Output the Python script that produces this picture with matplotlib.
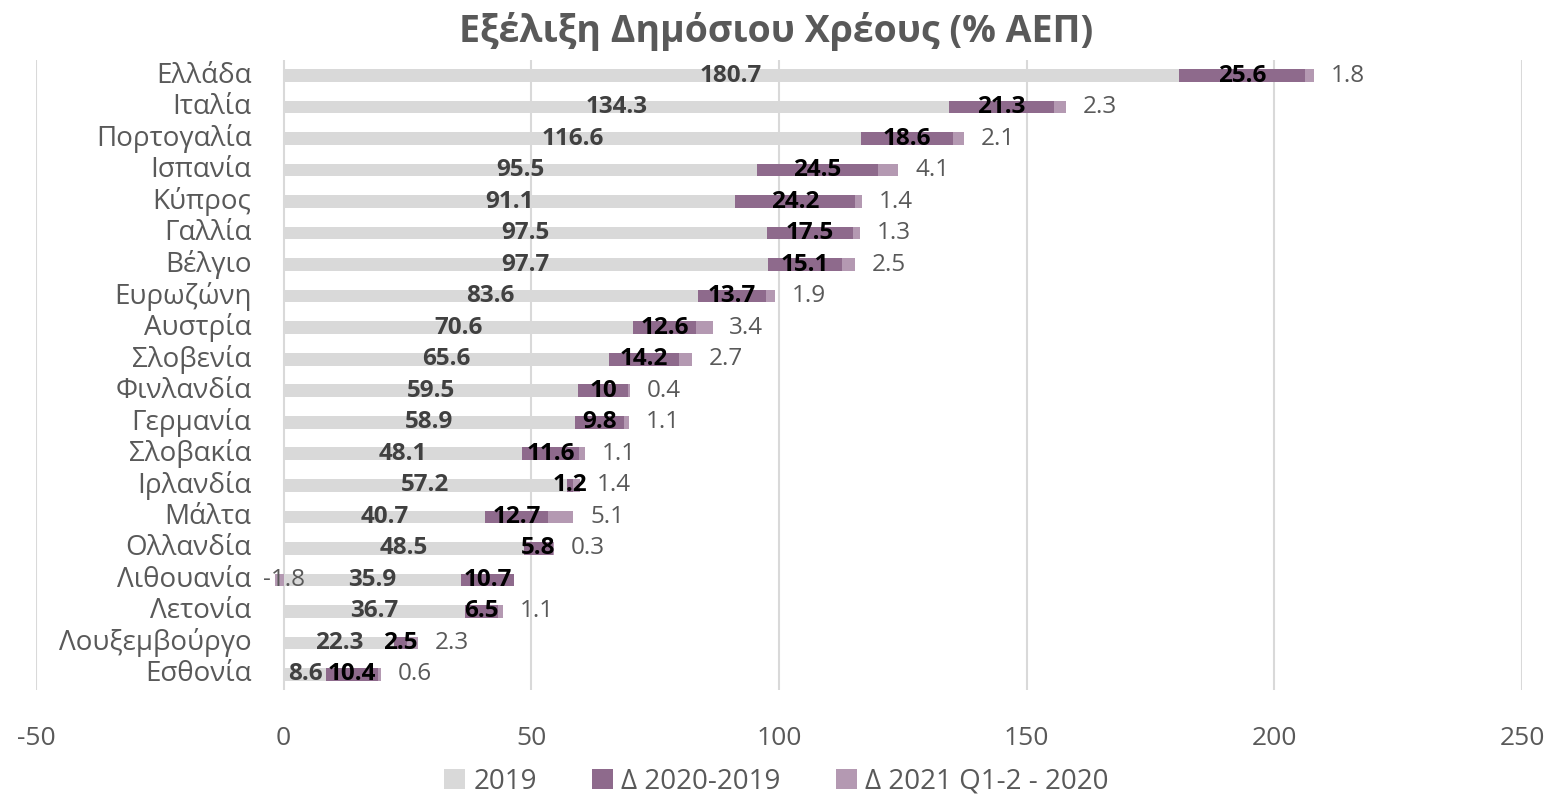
import matplotlib.pyplot as plt
import numpy as np

plt.rcParams['font.family'] = ['Open Sans', 'DejaVu Sans']
plt.rcParams['axes.unicode_minus'] = False

countries = ['Ελλάδα', 'Ιταλία', 'Πορτογαλία', 'Ισπανία', 'Κύπρος', 'Γαλλία', 'Βέλγιο',
             'Ευρωζώνη', 'Αυστρία', 'Σλοβενία', 'Φινλανδία', 'Γερμανία', 'Σλοβακία',
             'Ιρλανδία', 'Μάλτα', 'Ολλανδία', 'Λιθουανία', 'Λετονία', 'Λουξεμβούργο', 'Εσθονία']
debt_2019 = [180.7, 134.3, 116.6, 95.5, 91.1, 97.5, 97.7, 83.6, 70.6, 65.6,
             59.5, 58.9, 48.1, 57.2, 40.7, 48.5, 35.9, 36.7, 22.3, 8.6]
d_2020 = [25.6, 21.3, 18.6, 24.5, 24.2, 17.5, 15.1, 13.7, 12.6, 14.2,
          10, 9.8, 11.6, 1.2, 12.7, 5.8, 10.7, 6.5, 2.5, 10.4]
d_2021 = [1.8, 2.3, 2.1, 4.1, 1.4, 1.3, 2.5, 1.9, 3.4, 2.7,
          0.4, 1.1, 1.1, 1.4, 5.1, 0.3, -1.8, 1.1, 2.3, 0.6]
legend_labels = ['2019', 'Δ 2020-2019', 'Δ 2021 Q1-2 - 2020']

c_grey = '#D9D9D9'
c_dark = '#8E6A8C'
c_light = '#B499B2'
txt = '#595959'

v19 = np.array(debt_2019)
v20 = np.array(d_2020)
v21 = np.array(d_2021)
y = np.arange(len(countries))
h = 0.4

fig = plt.figure(figsize=(15.53, 7.97), dpi=100)
ax = fig.add_axes([0.0232, 0.134, 0.9568, 0.791])

ax.barh(y, v19, height=h, color=c_grey, label=legend_labels[0], zorder=2)
ax.barh(y, v20, left=v19, height=h, color=c_dark, label=legend_labels[1], zorder=2)
left21 = np.where(v21 >= 0, v19 + v20, 0)
ax.barh(y, v21, left=left21, height=h, color=c_light, label=legend_labels[2], zorder=2)

fs = 20     # category text
fv = 17.5   # value labels
for i in range(len(countries)):
    ax.text(v19[i] / 2, y[i], f'{v19[i]:g}', ha='center', va='center',
            fontsize=fv, fontweight='bold', color='#404040', zorder=3)
    ax.text(v19[i] + v20[i] / 2, y[i], f'{v20[i]:g}', ha='center', va='center',
            fontsize=fv, fontweight='bold', color='black', zorder=3)
    if v21[i] >= 0:
        ax.annotate(f'{v21[i]:g}', (v19[i] + v20[i] + v21[i], y[i]), xytext=(12, 0),
                    textcoords='offset points', ha='left', va='center',
                    fontsize=fv, color=txt, zorder=3)
    else:
        ax.text(0, y[i], f'{v21[i]:g}', ha='center', va='center',
                fontsize=fv, color=txt, zorder=3)
    ax.text(-6.5, y[i], countries[i], ha='right', va='center', fontsize=fs, color=txt)

ax.set_xlim(-50, 250)
ax.set_ylim(len(countries) - 0.5, -0.5)
ax.set_xticks(np.arange(-50, 251, 50))
ax.set_yticks([])
ax.tick_params(axis='x', length=0, labelsize=19, labelcolor=txt, pad=26)
ax.grid(axis='x', color=c_grey, linewidth=1.5, zorder=0)
for s in ax.spines.values():
    s.set_visible(False)

fig.suptitle('Εξέλιξη Δημόσιου Χρέους (% ΑΕΠ)', y=0.985, fontsize=27, fontweight='bold', color=txt)
fig.legend(loc='lower center', ncol=3, frameon=False, fontsize=20, labelcolor=txt,
           handlelength=0.75, handleheight=0.75, handletextpad=0.3, columnspacing=2.0,
           bbox_to_anchor=(0.5, -0.03))

fig.savefig('out.png', dpi=100)
